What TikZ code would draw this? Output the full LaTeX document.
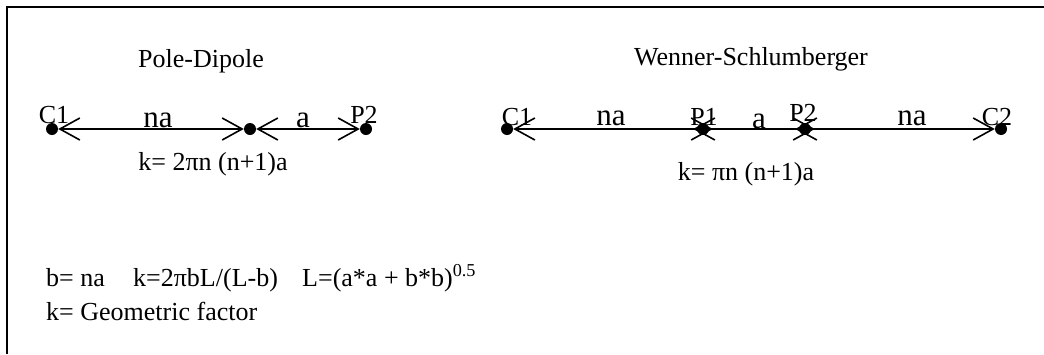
\documentclass[tikz,border=0pt]{standalone}
\usepackage{fontspec}
\setmainfont{Liberation Serif}
\usetikzlibrary{arrows.meta}
\begin{document}
\begin{tikzpicture}[x=1pt,y=-1pt,
  dot/.style={circle,fill=black,inner sep=0pt,minimum size=12pt},
  lbl/.style={inner sep=0pt,anchor=base,font=\fontsize{26}{30}\selectfont},
  big/.style={inner sep=0pt,anchor=base,font=\fontsize{31}{36}\selectfont},
  chev/.tip={Straight Barb[length=20pt,width=22pt,line width=1.6pt]},
  conn/.style={line width=1.6pt,chev-chev},
  frame/.style={line width=2.5pt}]
\useasboundingbox (0,0) rectangle (1044,354);
\draw[frame] (7,354) -- (7,7) -- (1044,7);
% Pole-Dipole
\node[lbl] (t1) at (201,67) {Pole-Dipole};
\node[dot] (a1) at (52,129) {};
\node[dot] (a2) at (250,129) {};
\node[dot] (a3) at (366,129) {};
\draw[conn] (a1) -- (a2);
\draw[conn] (a2) -- (a3);
\node[lbl] (la1) at (54,123) {C1};
\node[big] (la2) at (158,127) {na};
\node[big] (la3) at (303,127) {a};
\node[lbl] (la4) at (364,123) {P2};
\node[lbl] (k1) at (213,170) {k= 2πn (n+1)a};
% Wenner-Schlumberger
\node[lbl] (t2) at (751,65) {Wenner-Schlumberger};
\node[dot] (b1) at (507,129) {};
\node[dot] (b2) at (703,129) {};
\node[dot] (b3) at (805,129) {};
\node[dot] (b4) at (1001,129) {};
\draw[conn,shorten >=-16pt] (b1) -- (b2);
\draw[conn,shorten <=-16pt,shorten >=-16pt] (b2) -- (b3);
\draw[conn,shorten <=-16pt] (b3) -- (b4);
\node[lbl] (lb1) at (517,125) {C1};
\node[big] (lb2) at (611,125) {na};
\node[lbl] (lb3) at (704,125) {P1};
\node[big] (lb4) at (759,128) {a};
\node[lbl] (lb5) at (803,121) {P2};
\node[big] (lb6) at (912,125) {na};
\node[lbl] (lb7) at (997,125) {C2};
\node[lbl] (k2) at (746,180) {k= πn (n+1)a};
% formulas
\node[lbl,anchor=base west] (f1) at (46,286) {b= na};
\node[lbl,anchor=base west] (f2) at (133,286) {k=2πbL/(L-b)};
\node[lbl,anchor=base west] (f3) at (302,286) {L=(a*a + b*b)\textsuperscript{0.5}};
\node[lbl,anchor=base west] (f4) at (46,320) {k= Geometric factor};
\end{tikzpicture}
\end{document}
